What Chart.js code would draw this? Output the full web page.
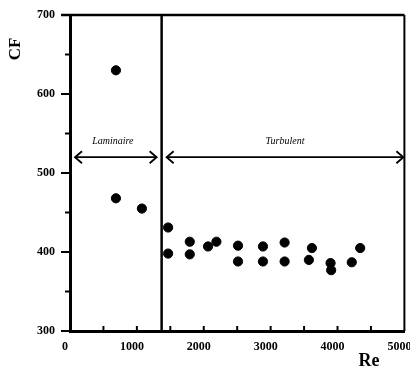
<!DOCTYPE html>
<html>
<head>
<meta charset="utf-8">
<script src="https://cdn.jsdelivr.net/npm/chart.js@4.4.1/dist/chart.umd.min.js"></script>
<style>
  html, body { margin: 0; padding: 0; background: #fff; }
  #wrap { width: 410px; height: 376px; }
</style>
</head>
<body>
<div id="wrap"><canvas id="cfChart" width="410" height="376"></canvas></div>
<script>
'use strict';
// ===================== data =====================
const reValues = [687, 687, 1075, 1467, 1467, 1791, 1791, 2064, 2189, 2512, 2512,
                  2885, 2885, 3209, 3209, 3617, 3572, 3896, 3905, 4213, 4339];
const cfValues = [630, 468, 455, 431, 398, 413, 397, 407, 413, 408, 388,
                  407, 388, 412, 388, 405, 390, 386, 377, 387, 405];
const xTickValues = [0, 1000, 2000, 3000, 4000, 5000];
const yTickValues = [300, 400, 500, 600, 700];
const regimeBoundary = 1370;   // Re where laminar ends
const arrowLevel = 520;        // CF level of the regime arrows
const regimeNames = ['Laminaire', 'Turbulent'];
const axisTitles = ['Re', 'CF'];

const SERIF = '"Liberation Serif", "DejaVu Serif", serif';

function arrowHead(ctx, x, y, dir) {
    ctx.beginPath();
    ctx.moveTo(x + dir * 7, y - 6);
    ctx.lineTo(x, y);
    ctx.lineTo(x + dir * 7, y + 6);
    ctx.stroke();
}

const frameDecor = {
    id: 'frameDecor',
    afterDraw(chart) {
        const { ctx, chartArea: a, scales: { x, y } } = chart;
        ctx.save();
        ctx.strokeStyle = '#000';
        ctx.lineCap = 'butt';

        // y ticks, pointing out
        ctx.lineWidth = 2;
        for (let v = 300; v <= 700; v += 50) {
            const py = y.getPixelForValue(v);
            const len = v % 100 === 0 ? 9 : 5;
            ctx.beginPath();
            ctx.moveTo(a.left - len, py);
            ctx.lineTo(a.left, py);
            ctx.stroke();
        }
        // x ticks, pointing in
        for (let v = 500; v < 5000; v += 500) {
            const px = x.getPixelForValue(v);
            ctx.beginPath();
            ctx.moveTo(px, a.bottom);
            ctx.lineTo(px, a.bottom - 5);
            ctx.stroke();
        }

        // top and right of the frame
        ctx.lineWidth = 2.5;
        const topY = y.getPixelForValue(700);
        ctx.beginPath();
        ctx.moveTo(a.left - 9, topY);
        ctx.lineTo(a.right, topY);
        ctx.stroke();
        ctx.lineWidth = 2;
        ctx.beginPath();
        ctx.moveTo(a.right, topY);
        ctx.lineTo(a.right, a.bottom);
        ctx.stroke();

        // laminar / turbulent boundary
        const bx = x.getPixelForValue(regimeBoundary);
        ctx.lineWidth = 2.5;
        ctx.beginPath();
        ctx.moveTo(bx, topY);
        ctx.lineTo(bx, a.bottom);
        ctx.stroke();

        // arrows
        const ay = y.getPixelForValue(arrowLevel);
        ctx.lineWidth = 1.8;
        const spans = [[a.left + 5, bx - 5], [bx + 5, a.right - 1]];
        spans.forEach(([x0, x1]) => {
            ctx.beginPath();
            ctx.moveTo(x0, ay);
            ctx.lineTo(x1, ay);
            ctx.stroke();
            arrowHead(ctx, x0, ay, 1);
            arrowHead(ctx, x1, ay, -1);
        });

        ctx.fillStyle = '#000';
        ctx.font = 'italic 10px ' + SERIF;
        ctx.textAlign = 'center';
        ctx.textBaseline = 'middle';
        ctx.fillText(regimeNames[0], (spans[0][0] + spans[0][1]) / 2 - 3, ay - 16);
        ctx.fillText(regimeNames[1], (spans[1][0] + spans[1][1]) / 2, ay - 16);

        // axis titles
        ctx.font = 'bold 18px ' + SERIF;
        ctx.fillText(axisTitles[0], 369, 361);
        ctx.save();
        ctx.translate(16, 49);
        ctx.rotate(-Math.PI / 2);
        ctx.font = 'bold 17px ' + SERIF;
        ctx.fillText(axisTitles[1], 0, 0);
        ctx.restore();

        ctx.restore();
    }
};

const tickFont = { family: SERIF, weight: 'bold', size: 12 };

new Chart(document.getElementById('cfChart').getContext('2d'), {
    type: 'scatter',
    data: {
        datasets: [{
            data: reValues.map((r, i) => ({ x: r, y: cfValues[i] })),
            backgroundColor: '#000',
            borderColor: '#000',
            pointRadius: 4.6,
            pointHoverRadius: 4.6,
        }]
    },
    options: {
        responsive: false,
        animation: false,
        devicePixelRatio: 1,
        layout: { padding: { top: 15, right: 5, left: 0, bottom: 0 } },
        plugins: { legend: { display: false }, tooltip: { enabled: false } },
        scales: {
            x: {
                type: 'linear',
                min: 0, max: 5000,
                afterBuildTicks: s => { s.ticks = xTickValues.map(v => ({ value: v })); },
                afterFit: s => { s.height = 45; s.paddingLeft = 0; s.paddingRight = 0; },
                grid: { display: false, drawTicks: false },
                border: { display: true, color: '#000', width: 3 },
                ticks: { color: '#000', font: tickFont, padding: 9, maxRotation: 0,
                         labelOffset: -5, callback: v => String(v) }
            },
            y: {
                type: 'linear',
                min: 300, max: 700,
                afterBuildTicks: s => { s.ticks = yTickValues.map(v => ({ value: v })); },
                afterFit: s => { s.width = 70; s.paddingTop = 0; s.paddingBottom = 0; },
                grid: { display: false, drawTicks: false },
                border: { display: true, color: '#000', width: 3 },
                ticks: { color: '#000', font: tickFont, padding: 15,
                         callback: v => String(v) }
            }
        }
    },
    plugins: [frameDecor]
});
</script>
</body>
</html>
